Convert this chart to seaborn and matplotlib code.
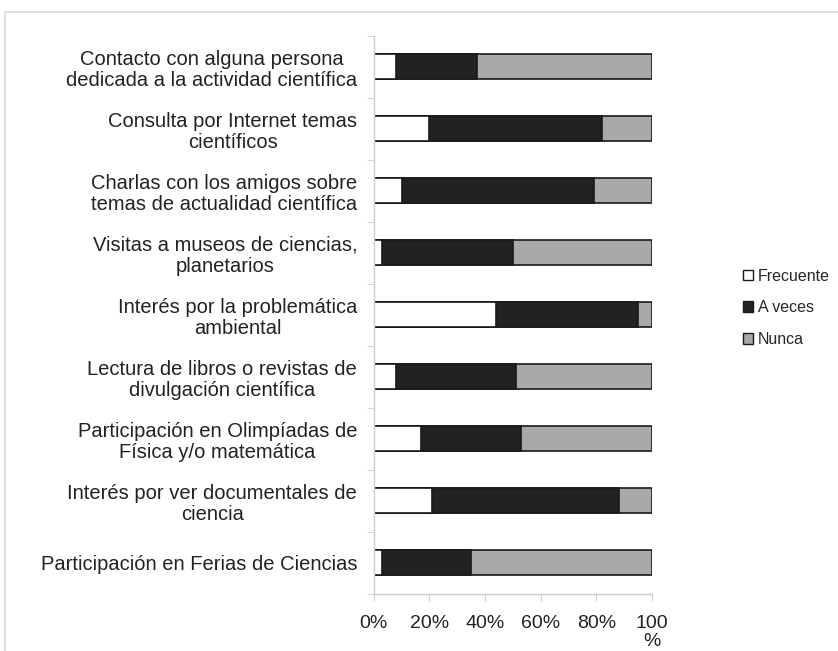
import pandas as pd
import numpy as np
import matplotlib
matplotlib.use("Agg")
import matplotlib.pyplot as plt
import seaborn as sns
from matplotlib.patches import Patch, Rectangle

# Datos (porcentajes)
actividades = [
    "Contacto con alguna persona\ndedicada a la actividad científica",
    "Consulta por Internet temas\ncientíficos",
    "Charlas con los amigos sobre\ntemas de actualidad científica",
    "Visitas a museos de ciencias,\nplanetarios",
    "Interés por la problemática\nambiental",
    "Lectura de libros o revistas de\ndivulgación científica",
    "Participación en Olimpíadas de\nFísica y/o matemática",
    "Interés por ver documentales de\nciencia",
    "Participación en Ferias de Ciencias",
]
frecuente = [8, 20, 10, 3, 44, 8, 17, 21, 3]
a_veces = [29, 62, 69, 47, 51, 43, 36, 67, 32]
nunca = [63, 18, 21, 50, 5, 49, 47, 12, 65]
series = ["Frecuente", "A veces", "Nunca"]
colores = ["#ffffff", "#222222", "#a9a9a9"]
ticks_x = [0, 20, 40, 60, 80, 100]
etiquetas_x = ["0%", "20%", "40%", "60%", "80%", "100\n%"]

sns.set_style("white")
plt.rcParams["font.family"] = ["Liberation Sans", "DejaVu Sans"]

df = pd.DataFrame({"Actividad": actividades, "Frecuente": frecuente,
                   "A veces": a_veces, "Nunca": nunca})
# acumulados para apilar las barras
df["c1"] = df["Frecuente"]
df["c2"] = df["Frecuente"] + df["A veces"]
df["c3"] = df["c2"] + df["Nunca"]

fig = plt.figure(figsize=(8.38, 6.51), dpi=100)
ax = fig.add_axes([0.446, 0.088, 0.332, 0.857])

for col, color in zip(["c3", "c2", "c1"], colores[::-1]):
    sns.barplot(data=df, x=col, y="Actividad", color=color, width=0.4,
                edgecolor="#1a1a1a", linewidth=1.2, ax=ax, orient="h")

ax.set_xlim(0, 100)
ax.set_ylim(len(actividades) - 0.5, -0.5)
ax.set_xticks(ticks_x)
ax.set_xticklabels(etiquetas_x, fontsize=14, color="#222222", linespacing=1.1)
ax.set_yticks(np.arange(len(actividades)))
ax.set_yticklabels(actividades, fontsize=14.5, color="#222222",
                   multialignment="center", linespacing=1.18)
ax.tick_params(axis="y", which="major", left=False, length=0, pad=12)
ax.tick_params(axis="x", bottom=True, length=5, color="#cccccc", pad=10)
ax.set_yticks(np.arange(-0.5, len(actividades), 1), minor=True)
ax.tick_params(axis="y", which="minor", left=True, length=5, color="#cccccc")
ax.set_xlabel("")
ax.set_ylabel("")
for s in ["top", "right"]:
    ax.spines[s].set_visible(False)
for s in ["left", "bottom"]:
    ax.spines[s].set_color("#cccccc")
    ax.spines[s].set_linewidth(1)

handles = [Patch(facecolor=c, edgecolor="#1a1a1a", linewidth=1, label=s)
           for s, c in zip(series, colores)]
fig.legend(handles=handles, loc="center left", bbox_to_anchor=(0.877, 0.527),
           frameon=False, fontsize=11.5, handlelength=0.65, handleheight=0.65,
           handletextpad=0.3, labelspacing=1.05, borderpad=0)

# borde del área del gráfico
fig.patches.append(Rectangle((0.006, -0.01), 1.0, 0.992, transform=fig.transFigure,
                             fill=False, edgecolor="#d9d9d9", linewidth=1.2))

fig.savefig("out.png", dpi=100)
